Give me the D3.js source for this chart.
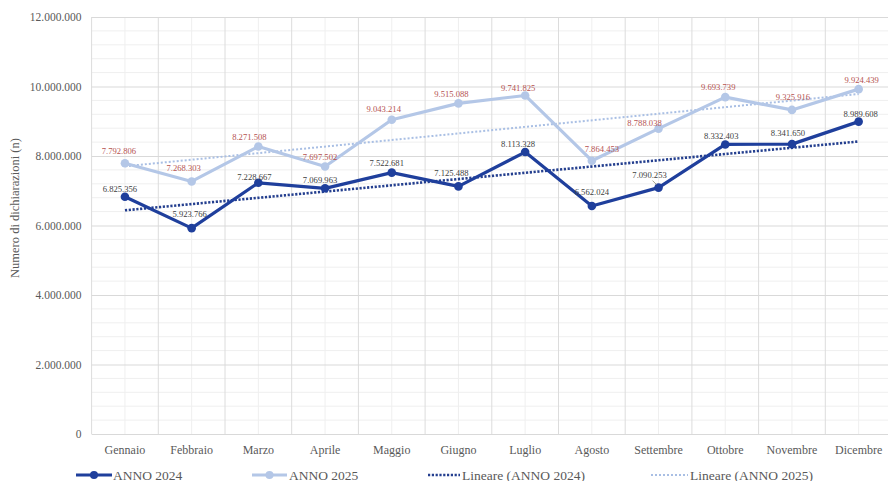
<!DOCTYPE html>
<html><head><meta charset="utf-8">
<script src="https://cdn.jsdelivr.net/npm/d3@7"></script>
<style>
html,body{margin:0;padding:0;background:#fff;}
svg{display:block;font-family:"Liberation Serif","Times New Roman",serif;}
</style></head>
<body><svg id="c" width="888" height="481"></svg>
<script>
const months = ["Gennaio","Febbraio","Marzo","Aprile","Maggio","Giugno","Luglio","Agosto","Settembre","Ottobre","Novembre","Dicembre"];
const anno2024 = [6825356,5923766,7228667,7069963,7522681,7125488,8113328,6562024,7090253,8332403,8341650,8989608];
const anno2025 = [7792806,7268303,8271508,7697502,9043214,9515088,9741825,7864453,8788038,9693739,9325916,9924439];
const yTicks = [0,2000000,4000000,6000000,8000000,10000000,12000000];
const seriesNames = ["ANNO 2024","ANNO 2025","Lineare (ANNO 2024)","Lineare (ANNO 2025)"];
const yTitle = "Numero di dichiarazioni (n)";

// label placement offsets (layout only)
const off2024 = [[-5,-8],[-2,-14],[-4,-6],[-5,-8],[-5,-10],[-7,-13],[-7,-8],[0,-14],[-9,-13],[-4,-8],[-4,-11],[2,-8]];
const off2025 = [[-6,-12],[-8,-13],[-9,-10],[-5,-10],[-8,-11],[-7,-9],[-7,-7],[10,-12],[-14,-6],[-7,-10],[1,-13],[3,-9]];

const C24 = "#1f3f9c", C25 = "#b4c7e7";
const svg = d3.select("#c");
const L = 91.6, R = 892, T = 17, B = 434;
const x = d3.scaleBand().domain(months).range([L, R]).padding(0);
const cx = m => x(m) + x.bandwidth()/2;
const y = d3.scaleLinear().domain([0, 12000000]).range([B, T]);
const loc = d3.formatLocale({decimal:",", thousands:".", grouping:[3], currency:["€",""]});
const fmt = loc.format(",d");

// minor horizontal grid
const minor = d3.range(0, 12000001, 400000).filter(v => v % 2000000 !== 0);
svg.append("g").selectAll("line").data(minor).join("line")
  .attr("x1", L).attr("x2", R).attr("y1", d => y(d)).attr("y2", d => y(d))
  .attr("stroke", "#efefef").attr("stroke-width", 1);
// minor vertical at centers
svg.append("g").selectAll("line").data(months).join("line")
  .attr("x1", d => cx(d)).attr("x2", d => cx(d)).attr("y1", T).attr("y2", B)
  .attr("stroke", "#efefef").attr("stroke-width", 1);
// major vertical at boundaries
svg.append("g").selectAll("line").data(months.concat(["_end"])).join("line")
  .attr("x1", (d,i) => L + i*x.bandwidth()).attr("x2", (d,i) => L + i*x.bandwidth())
  .attr("y1", T).attr("y2", B)
  .attr("stroke", "#dcdcdc").attr("stroke-width", 1);

// y axis with gridlines
const yAxis = svg.append("g").attr("transform", `translate(${L},0)`)
  .call(d3.axisLeft(y).tickValues(yTicks).tickFormat(d => fmt(d)).tickSize(-(R-L)).tickPadding(10));
yAxis.select(".domain").remove();
yAxis.selectAll(".tick line").attr("stroke", "#d9d9d9");
yAxis.selectAll(".tick text").attr("fill", "#595959").attr("font-size", "11.5px")
  .attr("font-family", "Liberation Serif");

// x axis labels
const xAxis = svg.append("g").attr("transform", `translate(0,${B})`)
  .call(d3.axisBottom(x).tickSize(0).tickPadding(11));
xAxis.select(".domain").remove();
xAxis.selectAll(".tick text").attr("fill", "#595959").attr("font-size", "12px")
  .attr("font-family", "Liberation Serif");

// y title
svg.append("text").attr("transform", "translate(19,208) rotate(-90)")
  .attr("text-anchor", "middle").attr("fill", "#595959").attr("font-size", "12.5px")
  .text(yTitle);

// trend lines
function trend(vals){
  const n = vals.length, xs = d3.range(n);
  const mx = d3.mean(xs), my = d3.mean(vals);
  const b = d3.sum(xs, (xi,i) => (xi-mx)*(vals[i]-my)) / d3.sum(xs, xi => (xi-mx)*(xi-mx));
  const a = my - b*mx;
  return [[0, a], [n-1, a + b*(n-1)]];
}
const tl = d3.line().x(d => cx(months[d[0]])).y(d => y(d[1]));
svg.append("path").attr("d", tl(trend(anno2025))).attr("fill","none")
  .attr("stroke", "#a9bfe4").attr("stroke-width", 2).attr("stroke-dasharray", "2,2");
svg.append("path").attr("d", tl(trend(anno2024))).attr("fill","none")
  .attr("stroke", "#243f8f").attr("stroke-width", 2.6).attr("stroke-dasharray", "2.2,1.6");

// series lines
const line = d3.line().x((d,i) => cx(months[i])).y(d => y(d));
function series(vals, color, labelColor, offs){
  svg.append("path").attr("d", line(vals)).attr("fill","none")
    .attr("stroke", color).attr("stroke-width", 3.2).attr("stroke-linejoin","round");
  svg.append("g").selectAll("circle").data(vals).join("circle")
    .attr("cx", (d,i) => cx(months[i])).attr("cy", d => y(d)).attr("r", 4.3)
    .attr("fill", color);
  svg.append("g").selectAll("text").data(vals).join("text")
    .attr("x", (d,i) => cx(months[i]) + offs[i][0])
    .attr("y", (d,i) => y(d) + offs[i][1] + 3)
    .attr("text-anchor", "middle").attr("font-size", "8.6px").attr("fill", labelColor)
    .text(d => fmt(d));
}
series(anno2025, C25, "#b5524f", off2025);
series(anno2024, C24, "#404040", off2024);

// leader line for Settembre 2024
{
  const px = cx(months[8]), py = y(anno2024[8]);
  svg.append("line").attr("x1", px-6).attr("y1", py-7).attr("x2", px-2).attr("y2", py-3)
    .attr("stroke", "#8a8a6a").attr("stroke-width", 0.8);
}

// legend
const lg = svg.append("g");
const ly = 475;
const items = [
  {x1:76, x2:112, tx:113, color:C24, w:3.2, dash:null, marker:true},
  {x1:252, x2:287, tx:289, color:C25, w:3.2, dash:null, marker:true},
  {x1:428, x2:460, tx:462, color:"#243f8f", w:2.6, dash:"2.2,1.6", marker:false},
  {x1:651, x2:688, tx:690, color:"#a9bfe4", w:2, dash:"2,2", marker:false}
];
items.forEach((it,i) => {
  lg.append("line").attr("x1", it.x1).attr("x2", it.x2).attr("y1", ly).attr("y2", ly)
    .attr("stroke", it.color).attr("stroke-width", it.w).attr("stroke-dasharray", it.dash);
  if (it.marker) lg.append("circle").attr("cx", (it.x1+it.x2)/2).attr("cy", ly).attr("r", 4).attr("fill", it.color);
  lg.append("text").attr("x", it.tx).attr("y", ly+4.5).attr("font-size", "13.5px")
    .attr("fill", "#595959").text(seriesNames[i]);
});
</script></body></html>
